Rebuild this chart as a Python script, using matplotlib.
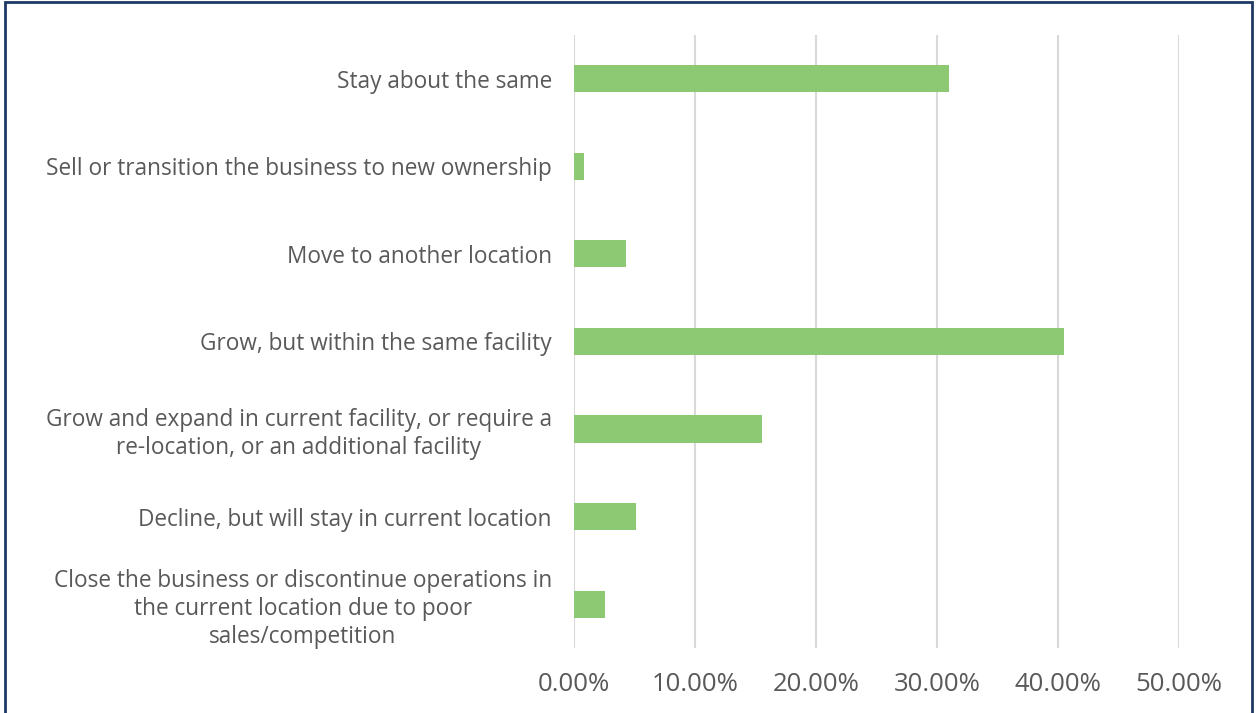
import matplotlib
matplotlib.use("Agg")
import matplotlib.pyplot as plt
from matplotlib.patches import Rectangle
from matplotlib.ticker import FuncFormatter

categories = [
    "Stay about the same",
    "Sell or transition the business to new ownership",
    "Move to another location",
    "Grow, but within the same facility",
    "Grow and expand in current facility, or require a\nre-location, or an additional facility",
    "Decline, but will stay in current location",
    "Close the business or discontinue operations in\nthe current location due to poor\nsales/competition",
]
values = [31.0, 0.85, 4.3, 40.5, 15.5, 5.1, 2.6]
xticks = [0, 10, 20, 30, 40, 50]

plt.rcParams['font.family'] = ['Open Sans', 'DejaVu Sans']

fig = plt.figure(figsize=(12.56, 7.13), dpi=100)
ax = fig.add_axes([0.457, 0.0912, 0.4817, 0.8597])

y = list(range(len(categories)))
ax.barh(y, values, height=0.31, color="#8DC873", zorder=3)
ax.set_ylim(len(categories) - 0.5, -0.5)
ax.set_xlim(0, 50)
ax.set_xticks(xticks)
ax.xaxis.set_major_formatter(FuncFormatter(lambda v, p: f"{v:.2f}%"))
ax.set_yticks(y)
ax.set_yticklabels(categories, multialignment="center", linespacing=1.2)
ax.grid(axis="x", color="#D9D9D9", linewidth=1.5, zorder=0)
for s in ax.spines.values():
    s.set_visible(False)
ax.tick_params(axis="y", length=0, pad=16, labelsize=16.3, labelcolor="#595959")
ax.tick_params(axis="x", length=0, pad=17, labelsize=18.5, labelcolor="#595959")

fig.patches.append(Rectangle((0.004, -0.01), 0.993, 1.007, transform=fig.transFigure,
                             fill=False, edgecolor="#1F3864", linewidth=2))

fig.savefig("out.png", dpi=100)
